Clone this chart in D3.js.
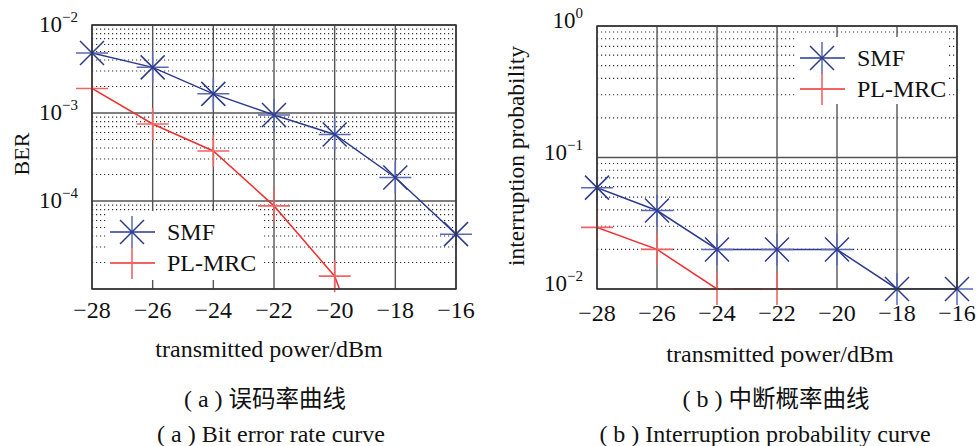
<!DOCTYPE html>
<html>
<head>
<meta charset="utf-8">
<script src="https://cdnjs.cloudflare.com/ajax/libs/d3/7.8.5/d3.min.js"></script>
<style>
  body { margin: 0; background: #fff; }
</style>
</head>
<body>
<svg id="chart" width="978" height="446"></svg>
<script>
// transmitted power (dBm)
const powers = [-28, -26, -24, -22, -20, -18, -16];
const xTicks = [-28, -26, -24, -22, -20, -18, -16];

// (a) bit error rate
const berSMF = [4.8e-3, 3.3e-3, 1.65e-3, 9.5e-4, 5.7e-4, 1.85e-4, 4.2e-5];
const berPL  = [1.9e-3, 7.5e-4, 3.7e-4, 8.8e-5, 1.4e-5, 2e-7, null];
const berDecades = [-2, -3, -4];

// (b) interruption probability
const probSMF = [0.059, 0.0395, 0.02, 0.02, 0.02, 0.01, 0.01];
const probPL  = [0.0294, 0.02, 0.01, 0.01, null, null, null];
const probDecades = [0, -1, -2];

const seriesNames = ['SMF', 'PL-MRC'];

const blue = '#2d3b8e', blueLight = '#5a69b4';
const red = '#ee2f2f', redLight = '#f26464';
const SERIF = 'Liberation Serif';
const CJK = 'Noto Sans CJK SC';

const svg = d3.select('#chart');

function label(sel, size) {
  return sel.append('text').attr('font-family', SERIF)
    .attr('font-size', size).attr('fill', '#111');
}

function starMarker(g, x, y) {
  g.append('path')
    .attr('d', `M${x-16},${y}H${x+16}M${x},${y-16}V${y+16}`)
    .attr('stroke', blueLight).attr('stroke-width', 1.5);
  g.append('path')
    .attr('d', `M${x-12},${y-12}L${x+12},${y+12}M${x-12},${y+12}L${x+12},${y-12}`)
    .attr('stroke', blue).attr('stroke-width', 1.5);
}

function plusMarker(g, x, y) {
  g.append('path')
    .attr('d', `M${x-16},${y}H${x+16}M${x},${y-16}V${y+16}`)
    .attr('stroke', redLight).attr('stroke-width', 1.6);
}

function drawPanel(p) {
  const x = d3.scaleLinear().domain([-28, -16]).range([p.left, p.right]);
  const y = d3.scaleLog().domain(p.yDomain).range([p.bottom, p.top]);
  const g = svg.append('g');

  // minor dotted grid
  const lo = Math.log10(p.yDomain[0]), hi = Math.log10(p.yDomain[1]);
  const minors = [];
  for (let e = lo; e < hi; e++) {
    for (let k = 2; k <= 9; k++) minors.push(k * Math.pow(10, e));
  }
  g.selectAll('.minor').data(minors).join('line')
    .attr('x1', p.left).attr('x2', p.right)
    .attr('y1', d => y(d)).attr('y2', d => y(d))
    .attr('stroke', '#333').attr('stroke-width', 1.2)
    .attr('stroke-dasharray', '1.2,2.8');

  // major grid
  const majors = d3.range(lo, hi + 1).map(e => Math.pow(10, e));
  g.selectAll('.hmaj').data(majors).join('line')
    .attr('x1', p.left).attr('x2', p.right)
    .attr('y1', d => y(d)).attr('y2', d => y(d))
    .attr('stroke', '#555').attr('stroke-width', 1.4);
  g.selectAll('.vmaj').data(xTicks).join('line')
    .attr('x1', d => x(d)).attr('x2', d => x(d))
    .attr('y1', p.top).attr('y2', p.bottom)
    .attr('stroke', '#555').attr('stroke-width', 1.4);

  // series: lines clipped to the plot box, markers only for in-range points
  const clipId = 'clip' + p.id;
  svg.append('clipPath').attr('id', clipId).append('rect')
    .attr('x', p.left).attr('y', p.top)
    .attr('width', p.right - p.left).attr('height', p.bottom - p.top);
  const plot = g.append('g');
  const line = d3.line().defined(d => d[1] != null)
    .x(d => x(d[0])).y(d => y(d[1]));
  const inRange = d => d[1] != null && d[1] >= p.yDomain[0] * 0.999;

  const pl = powers.map((v, i) => [v, p.pl[i]]);
  const smf = powers.map((v, i) => [v, p.smf[i]]);
  plot.append('path').attr('d', line(pl)).attr('clip-path', `url(#${clipId})`)
    .attr('fill', 'none').attr('stroke', red).attr('stroke-width', 1.5);
  pl.filter(inRange).forEach(d => plusMarker(plot, x(d[0]), y(d[1])));
  plot.append('path').attr('d', line(smf)).attr('clip-path', `url(#${clipId})`)
    .attr('fill', 'none').attr('stroke', blue).attr('stroke-width', 1.5);
  smf.filter(inRange).forEach(d => starMarker(plot, x(d[0]), y(d[1])));

  // legend
  const lg = svg.append('g');
  lg.append('rect').attr('x', p.legend.x).attr('y', p.legend.y)
    .attr('width', p.legend.w).attr('height', p.legend.h).attr('fill', '#fff');
  seriesNames.forEach((name, i) => {
    const ly = p.legend.y + 21 + i * 31;
    const lx = p.legend.x + 3;
    lg.append('line').attr('x1', lx).attr('x2', lx + 45)
      .attr('y1', ly).attr('y2', ly)
      .attr('stroke', i === 0 ? blue : red).attr('stroke-width', 1.5);
    if (i === 0) starMarker(lg, lx + 22, ly); else plusMarker(lg, lx + 22, ly);
    label(lg, 24).attr('x', lx + 57).attr('y', ly + 8).text(name);
  });

  // border
  svg.append('rect').attr('x', p.left).attr('y', p.top)
    .attr('width', p.right - p.left).attr('height', p.bottom - p.top)
    .attr('fill', 'none').attr('stroke', '#333').attr('stroke-width', 1.5);

  // x tick labels
  xTicks.forEach(d => {
    label(svg, 24).attr('x', x(d)).attr('y', p.bottom + p.xLabelDy)
      .attr('text-anchor', 'middle')
      .text(d3.format('d')(d).replace('-', '\u2212'));
  });

  // y tick labels, 10^n
  p.decades.forEach(e => {
    const t = label(svg, 23)
      .attr('x', p.left - 14).attr('y', y(Math.pow(10, e)) + p.yLabelDy)
      .attr('text-anchor', 'end');
    t.append('tspan').text('10');
    t.append('tspan').attr('dy', -10).attr('font-size', 15)
      .text(String(e).replace('-', '\u2212'));
  });

  // axis titles and captions
  label(svg, p.yTitleSize)
    .attr('transform', `translate(${p.yTitleX},${p.yTitleY}) rotate(-90)`)
    .attr('text-anchor', 'middle').text(p.yTitle);
  label(svg, 24).attr('x', p.titleX).attr('y', p.titleY)
    .attr('text-anchor', 'middle').text('transmitted power/dBm');
  const cn = label(svg, 24).attr('x', p.capCNX).attr('y', 407)
    .attr('text-anchor', 'middle');
  cn.append('tspan').text(`( ${p.tag} ) `);
  cn.append('tspan').attr('font-family', CJK).attr('font-size', 23.5).text(p.capCN);
  label(svg, 24).attr('x', p.capENX).attr('y', 442)
    .attr('text-anchor', 'middle').text(`( ${p.tag} ) ${p.capEN}`);
}

drawPanel({
  id: 'a', left: 92, right: 456, top: 25, bottom: 289,
  yDomain: [1e-5, 1e-2], smf: berSMF, pl: berPL, decades: berDecades,
  legend: { x: 107, y: 211, w: 155, h: 69 },
  xLabelDy: 29, yLabelDy: 7,
  yTitle: 'BER', yTitleX: 29, yTitleY: 154, yTitleSize: 22,
  titleX: 269, titleY: 357, capCNX: 265, capENX: 271, tag: 'a',
  capCN: '误码率曲线', capEN: 'Bit error rate curve'
});

drawPanel({
  id: 'b', left: 597, right: 957, top: 26, bottom: 289,
  yDomain: [1e-2, 1], smf: probSMF, pl: probPL, decades: probDecades,
  legend: { x: 797, y: 37, w: 150, h: 67 },
  xLabelDy: 32, yLabelDy: 2,
  yTitle: 'interruption probability', yTitleX: 524, yTitleY: 156, yTitleSize: 23.5,
  titleX: 780, titleY: 362, capCNX: 776, capENX: 765, tag: 'b',
  capCN: '中断概率曲线', capEN: 'Interruption probability curve'
});
</script>
</body>
</html>
